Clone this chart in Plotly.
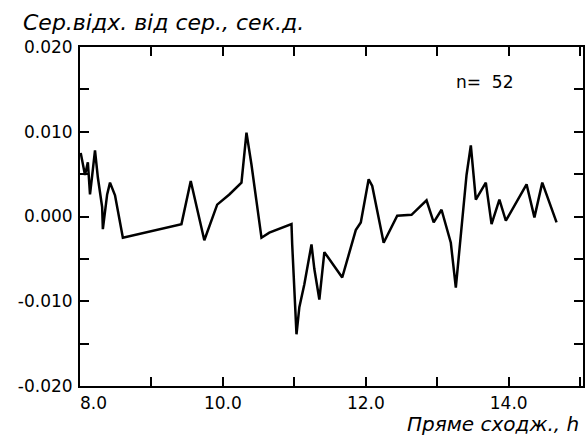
import plotly.graph_objects as go

# Right ascension (hours) and mean deviation from the mean (seconds of time)
hours = [8.01, 8.07, 8.11, 8.14, 8.17, 8.21, 8.25, 8.31, 8.32, 8.38,
         8.42, 8.49, 8.60, 9.42, 9.55, 9.74, 9.92, 10.09, 10.26, 10.33,
         10.40, 10.54, 10.65, 10.96, 10.97, 11.03, 11.07, 11.14, 11.24, 11.28,
         11.35, 11.42, 11.67, 11.86, 11.93, 12.04, 12.09, 12.25, 12.44, 12.64,
         12.85, 12.95, 13.06, 13.19, 13.26, 13.30, 13.41, 13.47, 13.54, 13.68,
         13.76, 13.87, 13.96, 14.25, 14.36, 14.47, 14.67]
dev = [0.0075, 0.0049, 0.0064, 0.0026, 0.0048, 0.0078, 0.0046, 0.0011, -0.0015, 0.0026,
       0.0040, 0.0025, -0.0025, -0.0009, 0.0042, -0.0028, 0.0014, 0.0026, 0.0040, 0.0099,
       0.0061, -0.0025, -0.0019, -0.0009, -0.0033, -0.0139, -0.0107, -0.0080, -0.0033, -0.0062,
       -0.0098, -0.0042, -0.0072, -0.0016, -0.0007, 0.0044, 0.0036, -0.0031, 0.0001, 0.0002,
       0.0019, -0.0007, 0.0008, -0.0031, -0.0084, -0.0046, 0.0049, 0.0084, 0.0020, 0.0040,
       -0.0009, 0.0020, -0.0005, 0.0038, -0.0001, 0.0040, -0.0007]

x_ticks = [8, 9, 10, 11, 12, 13, 14, 15]
x_labels = ["", "", "10.0", "", "12.0", "", "14.0", ""]
y_ticks = [-0.020, -0.015, -0.010, -0.005, 0.000, 0.005, 0.010, 0.015, 0.020]
y_labels = ["-0.020", "", "-0.010", "", "0.000", "", "0.010", "", "0.020"]

n_points = 52
y_title = "Сер.відх. від сер., сек.д."
x_title = "Пряме сходж., h"

tick_font = dict(family="DejaVu Sans", size=17, color="black")
title_font = dict(family="DejaVu Sans", size=22, color="black", style="italic")

fig = go.Figure()
fig.add_trace(go.Scatter(x=hours, y=dev, mode="lines",
                         line=dict(color="black", width=2.5),
                         hoverinfo="skip", showlegend=False))

axis_common = dict(showline=True, linecolor="black", linewidth=2, mirror="ticks",
                   ticks="inside", ticklen=9, tickwidth=2, tickcolor="black",
                   showgrid=False, zeroline=False, tickfont=tick_font)

fig.update_xaxes(range=[8, 15.04], tickvals=x_ticks, ticktext=x_labels,
                 ticklabelstandoff=1, **axis_common)
fig.update_yaxes(range=[-0.020, 0.020], tickvals=y_ticks, ticktext=y_labels,
                 ticklabelstandoff=2, **axis_common)

annotations = [
    dict(text=y_title, xref="paper", yref="paper", x=0, y=1, xanchor="left",
         yanchor="middle", xshift=-59, yshift=25, showarrow=False, font=title_font),
    dict(text=x_title, xref="paper", yref="paper", x=1, y=0, xanchor="right",
         yanchor="middle", xshift=-2, yshift=-38, showarrow=False,
         font=dict(title_font, size=20)),
    dict(text=f"n=  {n_points}", xref="paper", yref="paper", x=0, y=1, xanchor="left",
         yanchor="middle", xshift=374, yshift=-35, showarrow=False, font=tick_font),
    dict(text="8.0", xref="paper", yref="paper", x=0, y=0, xanchor="center",
         yanchor="middle", xshift=13, yshift=-17, showarrow=False, font=tick_font),
]

fig.update_layout(width=586, height=446, margin=dict(l=80, r=1, t=47, b=60),
                  paper_bgcolor="white", plot_bgcolor="white",
                  annotations=annotations)

fig.write_html("out.html")
